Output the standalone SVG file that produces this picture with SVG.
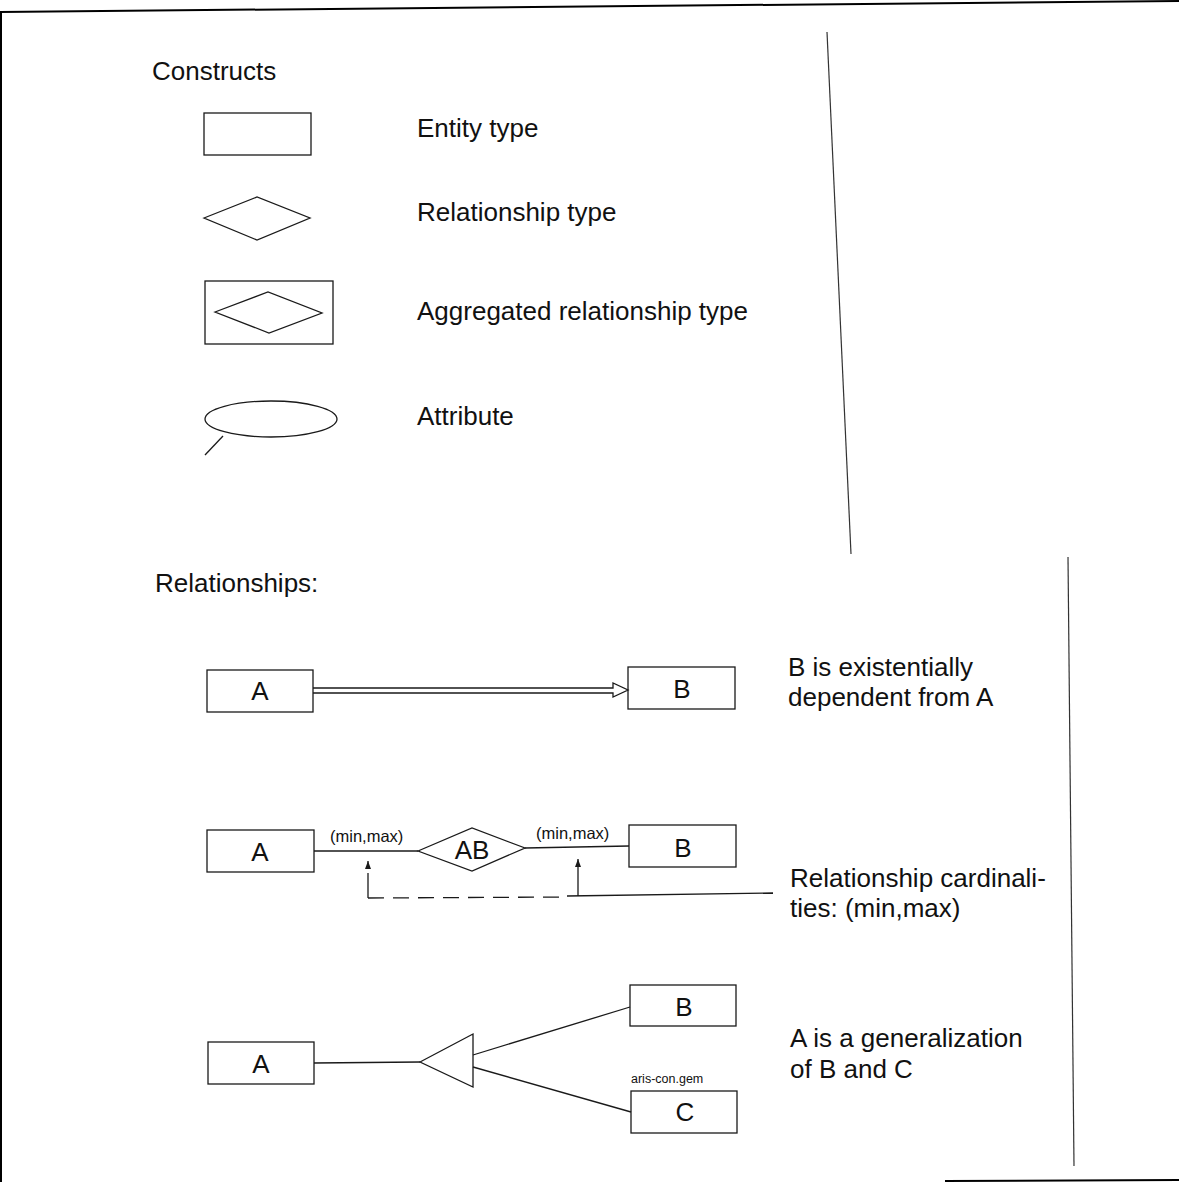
<svg xmlns="http://www.w3.org/2000/svg" width="1179" height="1182" viewBox="0 0 1179 1182">
<style>
  .shape { fill: none; stroke: #1a1a1a; stroke-width: 1.3; }
  .conn { fill: none; stroke: #1a1a1a; stroke-width: 1.3; }
  .lbl { font-family: "Liberation Sans", Arial, sans-serif; font-size: 26px; fill: #111; }
  .node { font-family: "Liberation Sans", Arial, sans-serif; font-size: 26px; fill: #111; text-anchor: middle; }
  .card { font-family: "Liberation Sans", Arial, sans-serif; font-size: 16.5px; fill: #111; }
  .small { font-family: "Liberation Sans", Arial, sans-serif; font-size: 12.5px; fill: #111; }
  .frame { fill: none; stroke: #000; stroke-width: 2; }
  .divider { fill: none; stroke: #333; stroke-width: 1.2; }
</style>
<defs>
  <marker id="head" viewBox="0 0 8 6" refX="8" refY="3" markerWidth="8" markerHeight="6" orient="auto" markerUnits="userSpaceOnUse">
    <path d="M0,0 L8,3 L0,6 Z" fill="#1a1a1a"/>
  </marker>
</defs>
<rect width="1179" height="1182" fill="#fff"/>

<!-- frame and dividers -->
<g id="frame">
  <line class="frame" x1="0" y1="12" x2="1179" y2="1"/>
  <line class="frame" x1="1" y1="12" x2="1" y2="1182"/>
  <line class="frame" x1="945" y1="1181" x2="1179" y2="1180"/>
  <line class="divider" x1="827" y1="32" x2="851" y2="554"/>
  <line class="divider" x1="1068" y1="557" x2="1074" y2="1166"/>
</g>

<!-- Constructs legend -->
<g id="legend">
  <text class="lbl" x="152" y="80">Constructs</text>
  <g id="legend-entity">
    <rect class="shape" x="204" y="113" width="107" height="42"/>
    <text class="lbl" x="417" y="137">Entity type</text>
  </g>
  <g id="legend-relationship">
    <polygon class="shape" points="204,218 257,197 310,218 257,240"/>
    <text class="lbl" x="417" y="221">Relationship type</text>
  </g>
  <g id="legend-aggregated">
    <rect class="shape" x="205" y="281" width="128" height="63"/>
    <polygon class="shape" points="215,312 268,292 322,313 269,333"/>
    <text class="lbl" x="417" y="320">Aggregated relationship type</text>
  </g>
  <g id="legend-attribute">
    <ellipse class="shape" cx="271" cy="419" rx="66" ry="18"/>
    <line class="shape" x1="223" y1="436" x2="205" y2="455"/>
    <text class="lbl" x="417" y="425">Attribute</text>
  </g>
</g>

<text class="lbl" x="155" y="592">Relationships:</text>

<!-- Row 1: existential dependency -->
<g id="r1-A">
  <rect class="shape" x="207" y="670" width="106" height="42"/>
  <text class="node" x="260" y="700">A</text>
</g>
<g id="r1-B">
  <rect class="shape" x="628" y="667" width="107" height="42"/>
  <text class="node" x="682" y="698">B</text>
</g>
<text class="lbl" x="788" y="676">B is existentially</text>
<text class="lbl" x="788" y="706">dependent from A</text>

<!-- Row 2: cardinalities -->
<g id="r2-A">
  <rect class="shape" x="207" y="830" width="107" height="42"/>
  <text class="node" x="260" y="861">A</text>
</g>
<g id="r2-AB">
  <polygon class="shape" points="418,851 472,828 525,848 472,871"/>
  <text class="node" x="472" y="859">AB</text>
</g>
<g id="r2-B">
  <rect class="shape" x="629" y="825" width="107" height="42"/>
  <text class="node" x="683" y="857">B</text>
</g>
<text class="card" x="330" y="842">(min,max)</text>
<text class="card" x="536" y="839">(min,max)</text>
<text class="lbl" x="790" y="887">Relationship cardinali-</text>
<text class="lbl" x="790" y="917">ties: (min,max)</text>

<!-- Row 3: generalization -->
<g id="r3-A">
  <rect class="shape" x="208" y="1042" width="106" height="42"/>
  <text class="node" x="261" y="1073">A</text>
</g>
<g id="r3-gen">
  <polygon class="shape" points="420,1062 473,1034 473,1087"/>
</g>
<g id="r3-B">
  <rect class="shape" x="630" y="985" width="106" height="41"/>
  <text class="node" x="684" y="1016">B</text>
</g>
<g id="r3-C">
  <rect class="shape" x="631" y="1091" width="106" height="42"/>
  <text class="node" x="685" y="1121">C</text>
</g>
<text class="small" x="631" y="1083">aris-con.gem</text>
<text class="lbl" x="790" y="1047">A is a generalization</text>
<text class="lbl" x="790" y="1078">of B and C</text>

<!-- connectors -->
<g id="connectors">
  <path class="conn" d="M313,688 L613,688 L613,683 L628,690 L613,697 L613,693 L313,693"/>
  <line class="conn" x1="314" y1="851" x2="418" y2="851"/>
  <line class="conn" x1="525" y1="848" x2="629" y2="846"/>
  <line class="conn" x1="368" y1="868" x2="368" y2="861" marker-end="url(#head)"/>
  <line class="conn" x1="368" y1="873" x2="368" y2="898"/>
  <line class="conn" x1="368" y1="898" x2="567" y2="897" stroke-dasharray="16,9"/>
  <line class="conn" x1="567" y1="896" x2="773" y2="893"/>
  <line class="conn" x1="578" y1="896" x2="578" y2="859" marker-end="url(#head)"/>
  <line class="conn" x1="314" y1="1063" x2="420" y2="1062"/>
  <line class="conn" x1="473" y1="1055" x2="630" y2="1007"/>
  <line class="conn" x1="473" y1="1067" x2="631" y2="1112"/>
</g>
</svg>
